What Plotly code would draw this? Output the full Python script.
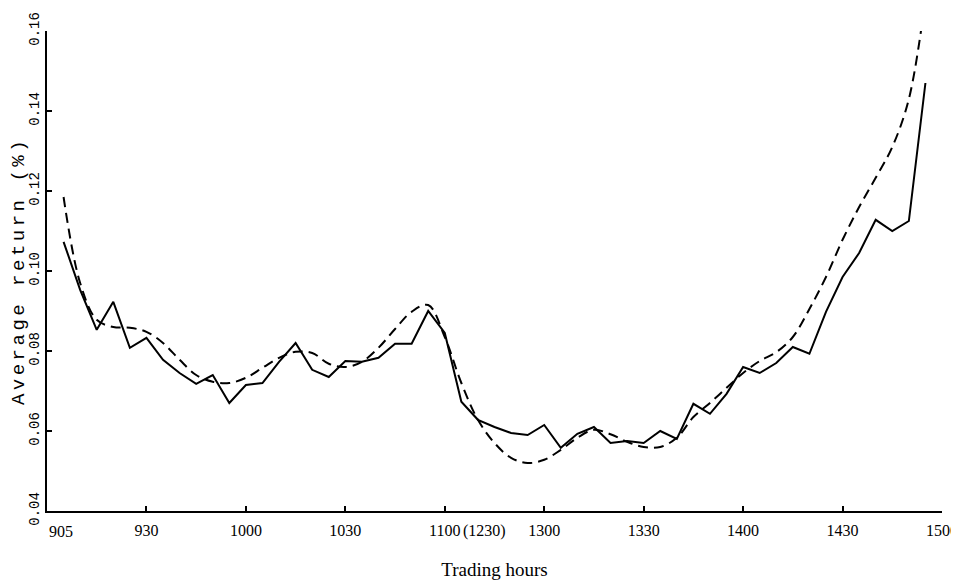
import plotly.graph_objects as go

# 5-minute intervals from 905 to 1455 (lunch 1100-1230 removed)
actual = [0.1073, 0.0953, 0.0853, 0.0923, 0.0808, 0.0833, 0.0778, 0.0745, 0.0718, 0.0740,
          0.0670, 0.0715, 0.0720, 0.0773, 0.0820, 0.0753, 0.0735, 0.0775, 0.0773, 0.0783,
          0.0818, 0.0818, 0.0900, 0.0845, 0.0673, 0.0628, 0.0610, 0.0595, 0.0590, 0.0615,
          0.0558, 0.0593, 0.0610, 0.0570, 0.0575, 0.0570, 0.0600, 0.0580, 0.0668, 0.0643,
          0.0693, 0.0760, 0.0745, 0.0770, 0.0810, 0.0793, 0.0898, 0.0985, 0.1045, 0.1128,
          0.1100, 0.1125, 0.1470]
fitted = [0.1185, 0.0970, 0.0878, 0.0860, 0.0858, 0.0848, 0.0820, 0.0778, 0.0740, 0.0723,
          0.0720, 0.0733, 0.0758, 0.0783, 0.0798, 0.0795, 0.0768, 0.0760, 0.0773, 0.0808,
          0.0855, 0.0898, 0.0915, 0.0835, 0.0720, 0.0628, 0.0570, 0.0533, 0.0520, 0.0528,
          0.0553, 0.0583, 0.0603, 0.0592, 0.0573, 0.0560, 0.0560, 0.0583, 0.0635, 0.0670,
          0.0708, 0.0745, 0.0775, 0.0797, 0.0835, 0.0905, 0.0985, 0.1078, 0.1160, 0.1233,
          0.1310, 0.1430, 0.1680]
slots = list(range(1, len(actual) + 1))

tick_pos = [6, 12, 18, 24, 30, 36, 42, 48, 54]
tick_text = ["930", "1000", "1030", "1100", "1300", "1330", "1400", "1430", "1500"]
y_ticks = [0.04, 0.06, 0.08, 0.10, 0.12, 0.14, 0.16]

mono = "Liberation Mono, Courier New, monospace"
serif = "Liberation Serif, Times New Roman, serif"

fig = go.Figure()
fig.add_trace(go.Scatter(x=slots, y=actual, mode="lines",
                         line=dict(color="black", width=2)))
fig.add_trace(go.Scatter(x=slots, y=fitted, mode="lines", line_shape="spline",
                         line=dict(color="black", width=2, dash="10px,6px")))

# page body adds an 8px offset, so the figure is a bit smaller than the window
fig.update_layout(
    width=951, height=572,
    margin=dict(l=39, r=17, t=23, b=69),
    plot_bgcolor="white", paper_bgcolor="white",
    showlegend=False,
    xaxis=dict(range=[0, 54], tickvals=tick_pos, ticktext=tick_text, automargin=False,
               showgrid=False, zeroline=False, showline=True, linecolor="black", linewidth=2,
               ticks="inside", ticklen=5, tickwidth=1.5, tickcolor="black",
               ticklabelstandoff=4,
               tickfont=dict(family=serif, size=16, color="black"),
               title=dict(text="Trading hours", font=dict(family=serif, size=19, color="black"),
                          standoff=24)),
    yaxis=dict(range=[0.04, 0.16], tickvals=y_ticks, tickformat=".2f", tickangle=-90,
               automargin=False,
               showgrid=False, zeroline=False, showline=True, linecolor="black", linewidth=2,
               ticks="inside", ticklen=5, tickwidth=1.5, tickcolor="black",
               tickfont=dict(family=mono, size=14, color="black"),
               title=dict(text='<span style="letter-spacing:3.5px">Average return (%)</span>',
                          font=dict(family=mono, size=19, color="black"), standoff=10)),
)

fig.add_annotation(x=0, y=0, xref="x", yref="paper", text="905", showarrow=False,
                   xanchor="left", yanchor="middle", yshift=-20,
                   font=dict(family=serif, size=16, color="black"))
fig.add_annotation(x=24, y=0, xref="x", yref="paper", text="(1230)", showarrow=False,
                   xanchor="left", yanchor="middle", xshift=16, yshift=-20,
                   font=dict(family=serif, size=16, color="black"))

fig.write_html("out.html")
